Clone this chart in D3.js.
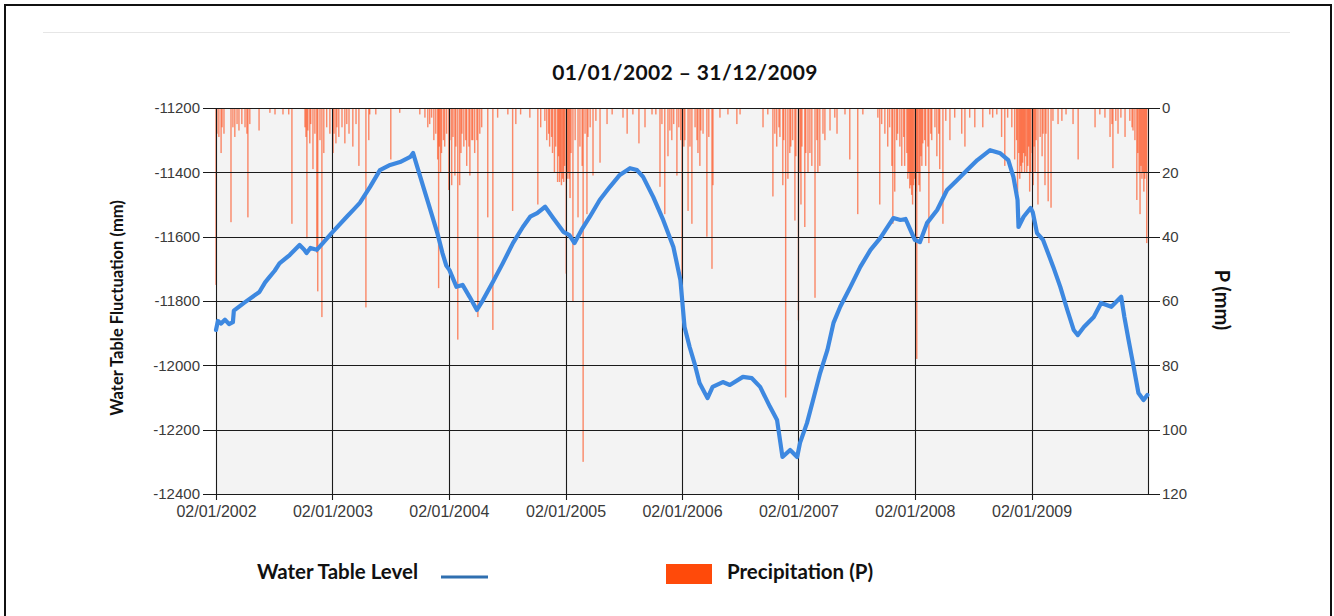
<!DOCTYPE html>
<html><head><meta charset="utf-8">
<script src="https://cdn.jsdelivr.net/npm/d3@7"></script>
<style>
html,body{margin:0;padding:0;background:#fff;}
svg{display:block;}
</style></head>
<body>
<svg id="chart" width="1334" height="616"></svg>
<script>
// ---------------- DATA ----------------
const titleText = "01/01/2002 \u2013 31/12/2009";
const leftTicks = [-11200, -11400, -11600, -11800, -12000, -12200, -12400];
const rightTicks = [0, 20, 40, 60, 80, 100, 120];
const yearTicks = [2002, 2003, 2004, 2005, 2006, 2007, 2008, 2009];

// Water table level (mm): [date, value]
const waterTable = [
["2002-01-02",-11890],["2002-01-08",-11862],["2002-01-18",-11870],["2002-01-30",-11858],["2002-02-12",-11872],["2002-02-24",-11866],["2002-02-27",-11830],
["2002-04-01",-11805],["2002-05-18",-11772],["2002-06-05",-11742],["2002-06-19",-11725],["2002-07-05",-11706],["2002-07-20",-11683],["2002-08-21",-11657],
["2002-09-21",-11626],["2002-10-05",-11640],["2002-10-13",-11651],["2002-10-25",-11635],["2002-11-14",-11641],["2002-12-03",-11620],["2003-01-03",-11585],
["2003-02-16",-11538],["2003-03-10",-11515],["2003-03-29",-11495],["2003-04-30",-11445],["2003-05-31",-11393],["2003-07-02",-11377],
["2003-08-02",-11368],["2003-09-03",-11352],["2003-09-12",-11340],["2003-09-25",-11383],["2003-10-14",-11445],
["2003-11-05",-11517],["2003-11-27",-11589],["2003-12-13",-11651],["2003-12-25",-11690],["2004-01-04",-11704],["2004-01-26",-11756],
["2004-02-14",-11750],["2004-03-07",-11787],["2004-03-30",-11828],["2004-04-18",-11797],["2004-05-19",-11741],
["2004-06-19",-11683],["2004-07-21",-11620],["2004-08-21",-11570],["2004-09-13",-11538],["2004-10-05",-11527],
["2004-10-30",-11507],["2004-11-24",-11542],["2004-12-26",-11585],["2005-01-14",-11595],["2005-01-30",-11620],
["2005-02-21",-11579],["2005-03-19",-11538],["2005-04-19",-11486],["2005-05-21",-11445],["2005-06-21",-11408],
["2005-07-23",-11387],["2005-08-14",-11393],["2005-09-02",-11414],["2005-10-04",-11477],["2005-11-04",-11548],
["2005-12-06",-11632],["2005-12-28",-11735],["2006-01-10",-11881],["2006-01-26",-11943],["2006-02-10",-11993],
["2006-02-26",-12055],["2006-03-23",-12102],["2006-04-08",-12067],["2006-05-10",-12052],["2006-06-01",-12061],
["2006-07-12",-12036],["2006-08-09",-12040],["2006-09-04",-12067],["2006-10-05",-12129],["2006-10-27",-12170],
["2006-11-13",-12285],["2006-12-07",-12263],["2006-12-29",-12285],["2007-01-07",-12241],["2007-01-29",-12179],
["2007-02-17",-12108],["2007-03-11",-12024],["2007-04-03",-11952],["2007-04-22",-11868],["2007-05-13",-11818],
["2007-06-14",-11756],["2007-07-15",-11694],["2007-08-16",-11641],["2007-09-16",-11604],["2007-10-08",-11570],
["2007-10-27",-11542],["2007-11-18",-11548],["2007-12-04",-11545],["2007-12-19",-11579],["2008-01-02",-11610],
["2008-01-18",-11617],["2008-02-09",-11558],["2008-03-12",-11517],["2008-04-12",-11455],["2008-05-14",-11424],
["2008-06-14",-11393],["2008-07-16",-11362],["2008-08-25",-11331],["2008-09-26",-11341],["2008-10-21",-11362],
["2008-11-06",-11414],["2008-11-19",-11486],["2008-11-22",-11570],["2008-12-08",-11538],["2008-12-30",-11511],
["2009-01-06",-11525],["2009-01-19",-11589],["2009-02-07",-11610],["2009-03-11",-11694],["2009-04-02",-11756],
["2009-04-24",-11828],["2009-05-14",-11890],["2009-05-27",-11906],["2009-06-15",-11881],["2009-07-16",-11850],
["2009-08-08",-11806],["2009-09-09",-11818],["2009-10-10",-11787],["2009-10-20",-11850],["2009-11-02",-11921],
["2009-11-18",-12005],["2009-12-03",-12086],["2009-12-19",-12108],["2009-12-31",-12092]
];

// Precipitation (mm) per year: [day of year (Jan 1 = 0), mm]
const precip2002 = [[1,55],[4,8],[10,9],[17,14],[20,6],[26,8],[48,35.5],[54,6],[60,9],[67,5],[73,7],[82,5],[92,6],[98,8],[101,34],[107,5],[136,7],[170,1.5],[186,2],[211,2],[229,2],[239,36],[280,6],[283,9],[286,40.5],[289,7],[295,11],[298,5],[305,19],[311,8],[317,45],[320,57],[327,10],[333,65],[339,14],[348,6],[358,8]];
const precip2003 = [[3,14],[6,8],[12,11],[15,6],[21,9],[31,6],[40,11],[46,5],[53,8],[65,12],[75,5],[84,18],[106,62],[115,10],[118,2],[137,2],[184,16],[212,1.5],[275,2],[291,3],[300,6],[306,5],[312,3],[319,10],[325,8],[331,16],[334,56],[336,12],[340,20],[343,14],[349,10],[353,12],[359,8]];
const precip2004 = [[1,25.5],[4,10],[10,24],[14,9],[20,21],[23,12],[29,72],[35,24],[39,14],[42,8],[48,12],[54,10],[57,18],[64,12],[67,21],[73,10],[76,10],[82,14],[89,10],[92,65],[98,8],[104,6],[123,34],[139,69],[154,3],[186,2],[201,32],[211,5],[226,2],[255,3],[280,30],[289,6],[302,4],[308,10],[314,8],[317,12],[323,9],[326,14],[332,20],[336,12],[342,23],[345,15],[348,23],[351,20],[354,24],[358,22],[361,23],[364,18]];
const precip2005 = [[3,51.5],[6,22],[9,20],[12,22],[15,28],[18,14],[24,60],[31,10],[40,34],[46,12],[53,18],[56,110],[62,8],[68,33],[71,9],[78,6],[87,21],[96,4],[109,17],[131,5],[147,2],[181,3],[194,8],[212,2],[231,11],[250,6],[272,2],[284,2],[297,24.5],[303,5],[312,33],[322,15],[328,7],[334,10],[340,5],[350,21],[356,6],[362,10]];
const precip2006 = [[1,57],[7,12],[10,10],[20,32],[26,12],[32,36],[42,6],[48,10],[51,14],[57,18],[60,7],[67,8],[79,40],[85,9],[95,50],[98,24],[120,3],[145,2],[173,5],[183,2],[255,6],[270,2],[286,27.5],[292,8],[298,12],[305,6],[308,9],[317,24],[320,10],[326,90],[333,22],[339,14],[342,12],[348,10],[355,35],[358,15]];
const precip2007 = [[1,66],[6,20],[9,30],[12,12],[21,37],[24,14],[31,20],[37,14],[43,18],[53,59],[59,10],[62,20],[68,18],[78,8],[84,10],[100,7],[115,3],[122,8],[147,2],[162,16],[187,33],[203,2],[250,3],[256,30],[262,5],[272,8],[281,12],[287,6],[294,18],[297,36],[303,26],[309,10],[312,8],[319,12],[325,18],[331,9],[334,18],[341,14],[344,22],[347,20],[350,25],[353,24],[356,27],[359,30],[362,24]];
const precip2008 = [[1,22],[4,26],[7,78],[10,20],[14,24],[17,26],[20,15],[23,18],[26,11],[32,10],[35,18],[42,12],[45,42],[51,8],[54,10],[64,6],[70,15],[76,8],[79,19],[89,36],[98,4],[111,10],[126,3],[148,8],[158,12],[173,3],[189,6],[214,6],[236,2],[245,3],[258,2],[273,9],[283,18],[292,3],[305,6],[314,16],[320,10],[323,26.5],[327,14],[330,22],[333,18],[336,20],[339,17],[342,14],[345,20],[348,15],[352,20],[355,18],[358,12],[361,26],[364,20]];
const precip2009 = [[3,14],[6,24],[9,12],[12,20],[15,10],[21,30],[28,9],[34,15],[37,8],[43,24],[46,8],[53,29],[62,31],[68,4],[84,5],[96,4],[109,2],[131,5],[147,16],[200,6],[215,2],[231,3],[247,9],[253,5],[256,18.7],[265,4],[272,8],[281,3],[294,9],[309,4],[316,6],[319,7],[325,10],[331,28.6],[334,14],[338,20],[341,33],[344,18],[347,22],[350,20],[353,26],[356,22],[359,20],[362,42]];

// ---------------- CHART ----------------
const svg = d3.select("#chart");
const plot = {left: 216, right: 1148, top: 108, bottom: 494};
const labelFont = "Lato, 'Open Sans', sans-serif";
const tickFont = "'Liberation Sans', Arial, sans-serif";

const parse = d3.timeParse("%Y-%m-%d");
const x = d3.scaleTime()
  .domain([new Date(2002, 0, 2), new Date(2010, 0, 2)])
  .range([plot.left, plot.right]);
const yL = d3.scaleLinear().domain([-11200, -12400]).range([plot.top, plot.bottom]);
const yR = d3.scaleLinear().domain([0, 120]).range([plot.top, plot.bottom]);

// outer frame and thin top rule
svg.append("rect").attr("x", 5).attr("y", 5).attr("width", 1326).attr("height", 640)
  .attr("fill", "none").attr("stroke", "#111").attr("stroke-width", 2);
svg.append("line").attr("x1", 43).attr("x2", 1290).attr("y1", 32.5).attr("y2", 32.5)
  .attr("stroke", "#e6e6e6").attr("stroke-width", 1);

// title
svg.append("text").attr("x", 685).attr("y", 80).attr("text-anchor", "middle")
  .attr("font-family", labelFont).attr("font-weight", 700).attr("letter-spacing", 0.4)
  .attr("font-size", 21).attr("fill", "#111").text(titleText);

// plot background
svg.append("rect").attr("x", plot.left).attr("y", plot.top)
  .attr("width", plot.right - plot.left).attr("height", plot.bottom - plot.top)
  .attr("fill", "#f3f3f3");

// precipitation bars
const allPrecip = [];
[[2002, precip2002],[2003, precip2003],[2004, precip2004],[2005, precip2005],
 [2006, precip2006],[2007, precip2007],[2008, precip2008],[2009, precip2009]]
 .forEach(([yr, arr]) => arr.forEach(([d, mm]) => allPrecip.push({date: new Date(yr, 0, 1 + d), mm})));

svg.append("g").selectAll("rect").data(allPrecip).join("rect")
  .attr("x", d => x(d.date) - 0.7)
  .attr("y", yR(0))
  .attr("width", 1.4)
  .attr("height", d => yR(d.mm) - yR(0))
  .attr("fill", "#ff4510")
  .attr("fill-opacity", 0.62);

// grid lines
const grid = svg.append("g");
leftTicks.forEach(v => {
  grid.append("line").attr("x1", plot.left - 13).attr("x2", plot.right + 12)
    .attr("y1", Math.round(yL(v)) + 0.5).attr("y2", Math.round(yL(v)) + 0.5)
    .attr("stroke", "#1a1a1a").attr("stroke-width", 1.1);
});
yearTicks.forEach(yr => {
  const xx = Math.round(x(new Date(yr, 0, 2))) + 0.5;
  grid.append("line").attr("x1", xx).attr("x2", xx)
    .attr("y1", plot.top).attr("y2", plot.bottom + 6)
    .attr("stroke", "#1a1a1a").attr("stroke-width", 1.1);
});
grid.append("line").attr("x1", plot.right + 0.5).attr("x2", plot.right + 0.5)
  .attr("y1", plot.top).attr("y2", plot.bottom).attr("stroke", "#1a1a1a").attr("stroke-width", 1.1);

// axes labels via d3 axes (domain/ticks hidden; grid drawn above)
const axL = d3.axisLeft(yL).tickValues(leftTicks).tickSize(0).tickPadding(16).tickFormat(d => String(d));
const gL = svg.append("g").attr("transform", `translate(${plot.left},0)`).call(axL);
const axR = d3.axisRight(yR).tickValues(rightTicks).tickSize(0).tickPadding(14);
const gR = svg.append("g").attr("transform", `translate(${plot.right},0)`).call(axR);
const axB = d3.axisBottom(x).tickValues(yearTicks.map(yr => new Date(yr, 0, 2)))
  .tickSize(0).tickPadding(12).tickFormat(d3.timeFormat("%d/%m/%Y"));
const gB = svg.append("g").attr("transform", `translate(0,${plot.bottom})`).call(axB);
[gL, gR].forEach(g => {
  g.select(".domain").remove();
  g.selectAll("text").attr("font-family", tickFont).attr("font-size", 15).attr("fill", "#3a3a3a");
});
gB.select(".domain").remove();
gB.selectAll("text").attr("font-family", tickFont).attr("font-size", 16).attr("fill", "#3a3a3a");

// water table line
const line = d3.line().x(d => x(parse(d[0]))).y(d => yL(d[1]));
svg.append("path").datum(waterTable).attr("d", line)
  .attr("fill", "none").attr("stroke", "#3d88e0").attr("stroke-width", 4.2)
  .attr("stroke-linejoin", "round").attr("stroke-linecap", "round");

// axis titles
svg.append("text").attr("transform", "translate(123,308) rotate(-90)")
  .attr("text-anchor", "middle").attr("font-family", labelFont).attr("font-weight", 700)
  .attr("font-size", 16.5).attr("fill", "#111").text("Water Table Fluctuation (mm)");
svg.append("text").attr("transform", "translate(1215,300) rotate(90)")
  .attr("text-anchor", "middle").attr("font-family", labelFont).attr("font-weight", 700)
  .attr("font-size", 20).attr("fill", "#111").text("P (mm)");

// legend
svg.append("text").attr("x", 257).attr("y", 579).attr("font-family", labelFont)
  .attr("font-weight", 700).attr("font-size", 20.5).attr("fill", "#111").text("Water Table Level");
svg.append("line").attr("x1", 441).attr("x2", 488).attr("y1", 577).attr("y2", 577)
  .attr("stroke", "#2f6fb0").attr("stroke-width", 3);
svg.append("rect").attr("x", 666).attr("y", 564).attr("width", 46).attr("height", 20).attr("fill", "#ff4a0a");
svg.append("text").attr("x", 727).attr("y", 579).attr("font-family", labelFont)
  .attr("font-weight", 700).attr("font-size", 20.5).attr("fill", "#111").text("Precipitation (P)");
</script>
</body></html>
